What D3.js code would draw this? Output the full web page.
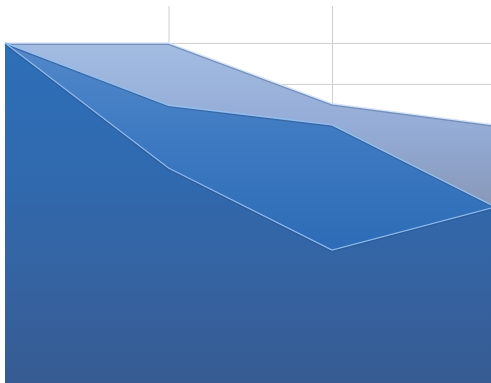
<!DOCTYPE html>
<html>
<head>
<meta charset="utf-8">
<script src="https://cdn.jsdelivr.net/npm/d3@7"></script>
<style>
  body { margin: 0; background: #fff; }
  svg { display: block; }
</style>
</head>
<body>
<svg width="491" height="383"></svg>
<script>
// categories and series
var categories = ["1", "2", "3", "4"];
var seriesA = [100, 100, 85.2, 80];
var seriesB = [100, 84.8, 80, 60];
var seriesC = [100, 69.5, 49.5, 60];
var yTicks = [90, 100];

var svg = d3.select("svg");

xScale = d3.scalePoint().domain(categories).range([5, 495.5]);
yScale = d3.scaleLinear().domain([0, 109]).range([453, 6]);

// gradients
var defs = svg.append("defs");
function grad(id, stops) {
    var g = defs.append("linearGradient").attr("id", id)
        .attr("gradientUnits", "userSpaceOnUse")
        .attr("x1", 0).attr("x2", 0).attr("y1", 43).attr("y2", 383);
    stops.forEach(function (s) {
        g.append("stop").attr("offset", s[0]).attr("stop-color", s[1]);
    });
}
grad("gA", [[0, "#a3bce2"], [0.25, "#94acd6"], [0.5, "#8796b6"], [1, "#7a88a6"]]);
grad("gB", [[0, "#5388ca"], [0.3, "#3c79c1"], [0.6, "#2e6cb7"], [1, "#2f62a6"]]);
grad("gC", [[0, "#2d6fb8"], [0.4, "#3069ae"], [0.7, "#3563a1"], [1, "#375b92"]]);

// gridlines
var yAxis = d3.axisLeft(yScale).tickValues(yTicks).tickSize(-491).tickFormat("");
svg.append("g").attr("transform", "translate(5,0)").call(yAxis)
    .call(function (g) { g.select(".domain").remove(); })
    .selectAll("line").attr("stroke", "#cfcfcf");

var xAxis = d3.axisTop(xScale).tickValues(categories.slice(1, 3)).tickSize(-383).tickFormat("");
svg.append("g").attr("transform", "translate(0,6)").call(xAxis)
    .call(function (g) { g.select(".domain").remove(); })
    .selectAll("line").attr("stroke", "#cfcfcf");

var area = d3.area()
    .x(function (d, i) { return xScale(categories[i]); })
    .y0(yScale(0))
    .y1(function (d) { return yScale(d); });

var line = d3.line()
    .x(function (d, i) { return xScale(categories[i]); })
    .y(function (d) { return yScale(d); });

var series = [
    { values: seriesA, fill: "url(#gA)", hi: "#d6e6fb", sh: "#6f86b0" },
    { values: seriesB, fill: "url(#gB)", hi: "#8fc0f2", sh: "#3d5f95" },
    { values: seriesC, fill: "url(#gC)", hi: "#8db9ea", sh: "#2a5a98" }
];

series.forEach(function (s) {
    svg.append("path").datum(s.values).attr("d", area).attr("fill", s.fill);
    // soft shadow just under the top edge
    svg.append("path").datum(s.values).attr("d", line)
        .attr("transform", "translate(0,1.5)")
        .attr("fill", "none").attr("stroke", s.sh).attr("stroke-width", 1.2).attr("opacity", 0.8);
    // light highlight on the top edge
    svg.append("path").datum(s.values).attr("d", line)
        .attr("fill", "none").attr("stroke", s.hi).attr("stroke-width", 1.3);
});
</script>
</body>
</html>
